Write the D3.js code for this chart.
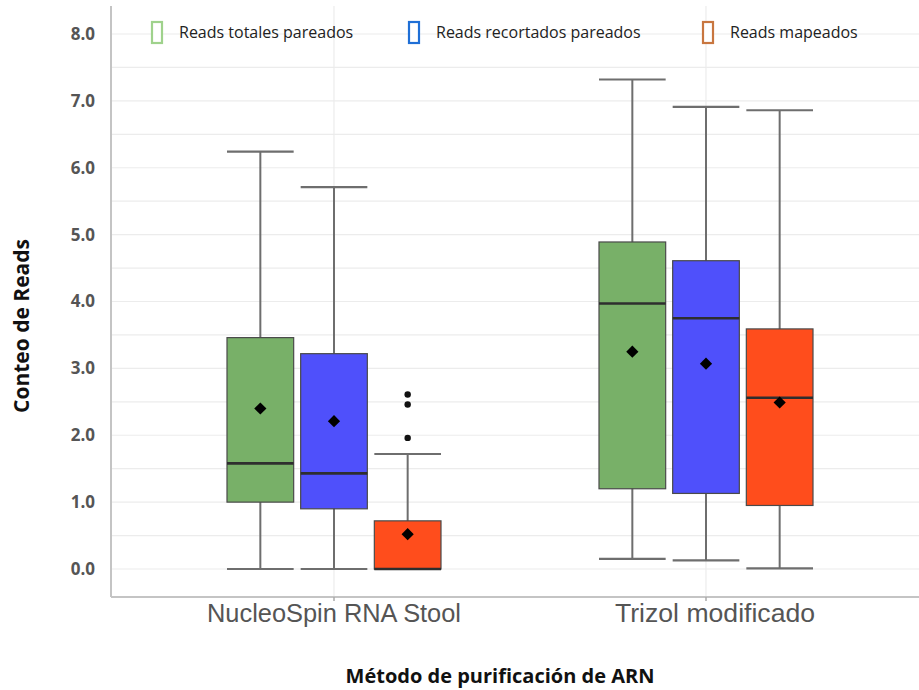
<!DOCTYPE html>
<html>
<head>
<meta charset="utf-8">
<script src="https://cdn.jsdelivr.net/npm/d3@7"></script>
<style>
  body { margin: 0; background: #fff; }
  svg { display: block; }
</style>
</head>
<body>
<svg id="chart" width="919" height="690"></svg>
<script>
// Purification methods (x categories) and read types (grouped boxes)
const methods = ["NucleoSpin RNA Stool", "Trizol modificado"];
const readTypes = ["Reads totales pareados", "Reads recortados pareados", "Reads mapeados"];
const fillColors = ["#78b068", "#4f50fb", "#ff4d1c"];
const legendColors = ["#9fd28c", "#1f6fd6", "#c8763f"];

// Box statistics per method, ordered as readTypes
const whiskerLow = [[0.0, 0.0, 0.0], [0.15, 0.13, 0.01]];
const q1 = [[1.0, 0.90, 0.0], [1.20, 1.13, 0.95]];
const median = [[1.58, 1.43, 0.0], [3.97, 3.75, 2.56]];
const q3 = [[3.46, 3.22, 0.72], [4.89, 4.61, 3.59]];
const whiskerHigh = [[6.24, 5.71, 1.72], [7.32, 6.91, 6.86]];
const means = [[2.40, 2.21, 0.52], [3.25, 3.07, 2.49]];
// Outliers: [method index, read type index, value]
const outliers = [[0, 2, 2.61], [0, 2, 2.46], [0, 2, 1.96]];

const yTicks = [0, 1, 2, 3, 4, 5, 6, 7, 8];
const yGrid = d3.range(0, 8.01, 0.5);

const svg = d3.select("#chart");

const plot = { left: 111, right: 919, top: 6, bottom: 597 };

const y = d3.scaleLinear().domain([0, 8]).range([569, 34]);
const x = d3.scaleBand().domain(methods).range([148, 892]).padding(0);
const xInner = d3.scaleBand().domain(readTypes).range([-107, 107]).paddingInner(0.095);

// Grid
const grid = svg.append("g");
grid.selectAll("line.h").data(yGrid).join("line")
  .attr("x1", plot.left).attr("x2", plot.right)
  .attr("y1", d => y(d)).attr("y2", d => y(d))
  .attr("stroke", "#ececec").attr("stroke-width", 1.2);
grid.selectAll("line.v").data(methods).join("line")
  .attr("x1", d => x(d) + x.bandwidth() / 2).attr("x2", d => x(d) + x.bandwidth() / 2)
  .attr("y1", plot.top).attr("y2", plot.bottom)
  .attr("stroke", "#ececec").attr("stroke-width", 1.2);

// Boxes
const rows = [];
methods.forEach((m, i) => readTypes.forEach((r, j) => rows.push({
  m, r, i, j,
  lo: whiskerLow[i][j], q1: q1[i][j], med: median[i][j], q3: q3[i][j],
  hi: whiskerHigh[i][j], mean: means[i][j]
})));

const cx = d => x(d.m) + x.bandwidth() / 2 + xInner(d.r) + xInner.bandwidth() / 2;
const bw = xInner.bandwidth();

const g = svg.append("g");
const box = g.selectAll("g.box").data(rows).join("g");

// whisker stems
box.append("line")
  .attr("x1", cx).attr("x2", cx)
  .attr("y1", d => y(d.hi)).attr("y2", d => y(d.lo))
  .attr("stroke", "#6e6e6e").attr("stroke-width", 2);
// caps
box.append("line")
  .attr("x1", d => cx(d) - bw / 2).attr("x2", d => cx(d) + bw / 2)
  .attr("y1", d => y(d.hi)).attr("y2", d => y(d.hi))
  .attr("stroke", "#6e6e6e").attr("stroke-width", 2.2);
box.append("line")
  .attr("x1", d => cx(d) - bw / 2).attr("x2", d => cx(d) + bw / 2)
  .attr("y1", d => y(d.lo)).attr("y2", d => y(d.lo))
  .attr("stroke", "#6e6e6e").attr("stroke-width", 2.2);
// box body
box.append("rect")
  .attr("x", d => cx(d) - bw / 2).attr("width", bw)
  .attr("y", d => y(d.q3)).attr("height", d => y(d.q1) - y(d.q3))
  .attr("fill", d => fillColors[d.j])
  .attr("stroke", "#4a4a4a").attr("stroke-width", 1.2);
// median
box.append("line")
  .attr("x1", d => cx(d) - bw / 2).attr("x2", d => cx(d) + bw / 2)
  .attr("y1", d => y(d.med)).attr("y2", d => y(d.med))
  .attr("stroke", "#2e2e2e").attr("stroke-width", 2.6);
// mean diamond
box.append("path")
  .attr("d", d3.symbol().type(d3.symbolDiamond2).size(95))
  .attr("transform", d => `translate(${cx(d)},${y(d.mean)})`)
  .attr("fill", "#000");

// outliers
g.selectAll("circle.out").data(outliers).join("circle")
  .attr("cx", d => cx({ m: methods[d[0]], r: readTypes[d[1]] }))
  .attr("cy", d => y(d[2]))
  .attr("r", 3.2).attr("fill", "#111");

// Axes lines
svg.append("line")
  .attr("x1", plot.left).attr("x2", plot.left)
  .attr("y1", plot.top).attr("y2", plot.bottom)
  .attr("stroke", "#c4c4c4").attr("stroke-width", 2);
svg.append("line")
  .attr("x1", plot.left).attr("x2", plot.right)
  .attr("y1", plot.bottom).attr("y2", plot.bottom)
  .attr("stroke", "#c4c4c4").attr("stroke-width", 2);

// x ticks
svg.selectAll("line.xt").data(methods).join("line")
  .attr("x1", d => x(d) + x.bandwidth() / 2).attr("x2", d => x(d) + x.bandwidth() / 2)
  .attr("y1", plot.bottom).attr("y2", plot.bottom + 4)
  .attr("stroke", "#aaa").attr("stroke-width", 1.5);

// y tick labels
svg.selectAll("text.yt").data(yTicks).join("text")
  .attr("x", 95).attr("y", d => y(d))
  .attr("dy", "0.35em")
  .attr("text-anchor", "end")
  .attr("font-family", "'Open Sans', sans-serif")
  .attr("font-weight", 700)
  .attr("font-size", 17)
  .attr("fill", "#555")
  .text(d => d3.format(".1f")(d));

// x tick labels
const xLabelWidths = [254, 200];
const xLabelShift = [0, 9];
svg.selectAll("text.xl").data(methods).join("text")
  .attr("x", (d, i) => x(d) + x.bandwidth() / 2 + xLabelShift[i]).attr("y", 622)
  .attr("text-anchor", "middle")
  .attr("font-family", "'Liberation Sans', Arial, sans-serif")
  .attr("font-size", 25)
  .attr("textLength", (d, i) => xLabelWidths[i])
  .attr("lengthAdjust", "spacingAndGlyphs")
  .attr("fill", "#555")
  .text(d => d);

// axis titles
svg.append("text")
  .attr("x", 500).attr("y", 683)
  .attr("text-anchor", "middle")
  .attr("font-family", "'Open Sans', sans-serif")
  .attr("font-weight", 700).attr("font-size", 20)
  .attr("fill", "#111")
  .text("Método de purificación de ARN");
svg.append("text")
  .attr("transform", "translate(29,326) rotate(-90)")
  .attr("text-anchor", "middle")
  .attr("font-family", "'Open Sans', sans-serif")
  .attr("font-weight", 700).attr("font-size", 21)
  .attr("fill", "#111")
  .text("Conteo de Reads");

// Legend
const legendX = [152, 409, 703];
const leg = svg.append("g").selectAll("g").data(readTypes).join("g")
  .attr("transform", (d, i) => `translate(${legendX[i]},22)`);
leg.append("rect")
  .attr("x", 0).attr("y", 0).attr("width", 10).attr("height", 21)
  .attr("fill", "#fff").attr("stroke", (d, i) => legendColors[i]).attr("stroke-width", 2.2);
leg.append("text")
  .attr("x", 27).attr("y", 16)
  .attr("font-family", "'Open Sans', sans-serif")
  .attr("font-size", 16)
  .attr("fill", "#222")
  .text(d => d);
</script>
</body>
</html>
